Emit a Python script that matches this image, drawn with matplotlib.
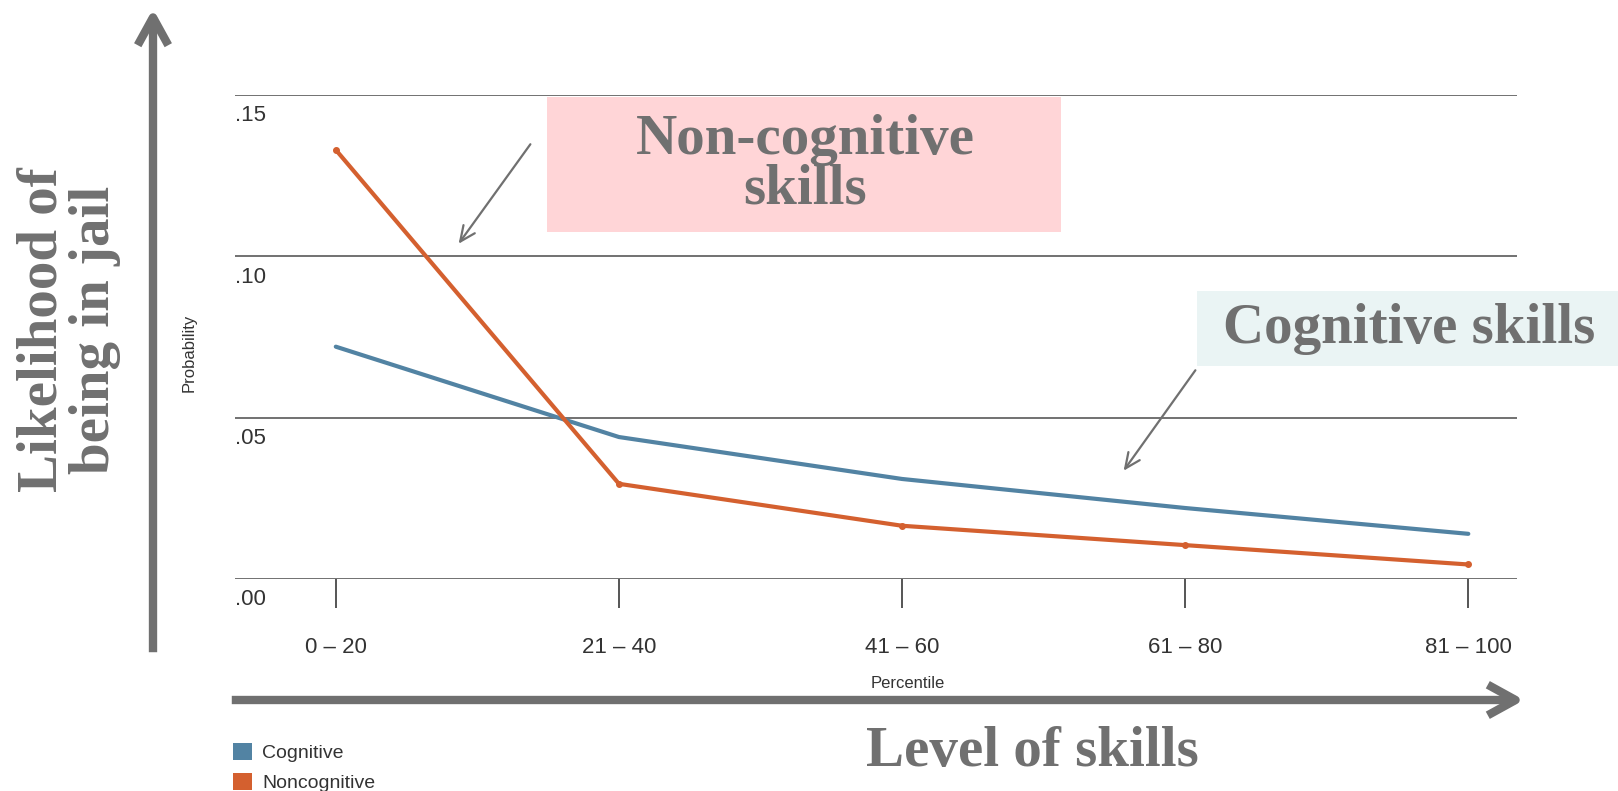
import matplotlib.pyplot as plt
import matplotlib.transforms as mtransforms
from matplotlib.patches import FancyArrowPatch, ArrowStyle, Rectangle, Patch

# data: probability of being in jail by skill percentile
categories   = ['0 – 20', '21 – 40', '41 – 60', '61 – 80', '81 – 100']
cognitive    = [0.072, 0.044, 0.031, 0.022, 0.014]
noncognitive = [0.133, 0.0295, 0.0165, 0.0105, 0.0045]
y_ticks      = [0.00, 0.05, 0.10, 0.15]
y_labels     = ['.00', '.05', '.10', '.15']

BLUE   = '#5283A3'
ORANGE = '#D4602F'
GREY   = '#707070'
SANS   = ['Liberation Sans', 'DejaVu Sans']
SERIF  = ['Liberation Serif', 'DejaVu Serif']

W, H = 1618, 791
fig = plt.figure(figsize=(W / 100, H / 100), dpi=100)


def fx(px):
    return px / W


def fy(py):
    return 1 - py / H


ax = fig.add_axes([fx(235), fy(579), fx(1517) - fx(235), fy(95) - fy(579)])
ax.patch.set_visible(False)
xs = list(range(len(categories)))

ax.plot(xs, cognitive, color=BLUE, lw=3, solid_capstyle='round', zorder=3)
ax.plot(xs, noncognitive, color=ORANGE, lw=3, marker='o', ms=4,
        solid_capstyle='round', zorder=4)

ax.set_xlim(-0.356, 4.172)
ax.set_ylim(0, 0.15)
for s in ax.spines.values():
    s.set_visible(False)

# horizontal rules
for v in y_ticks:
    ax.axhline(v, color='#666666', lw=1.3, zorder=1)

# y labels sit just under each rule
ytrans = mtransforms.blended_transform_factory(ax.transAxes, ax.transData)
for v, lab in zip(y_ticks, y_labels):
    ax.annotate(lab, xy=(0, v), xycoords=ytrans, xytext=(0, -15),
                textcoords='offset points', ha='left', va='center',
                fontsize=16, color='#333333', family=SANS)
ax.set_yticks([])

ax.set_xticks(xs)
ax.set_xticklabels([])
ax.tick_params(axis='x', length=21, width=1.4, color='#555555', direction='out')
xtrans = mtransforms.blended_transform_factory(ax.transData, ax.transAxes)
for x, lab in zip(xs, categories):
    ax.annotate(lab, xy=(x, 0), xycoords=xtrans, xytext=(0, -49),
                textcoords='offset points', ha='center', va='center',
                fontsize=16, color='#333333', family=SANS)

fig.text(fx(908), fy(684), 'Percentile', ha='center', va='center',
         fontsize=12, color='#333333', family=SANS)
fig.text(fx(189), fy(353), 'Probability', ha='center', va='center',
         rotation=90, fontsize=12, color='#333333', family=SANS)

# big axis arrows
big = ArrowStyle('->', head_length=20, head_width=11)
fig.add_artist(FancyArrowPatch((fx(153), fy(655)), (fx(153), fy(6)),
                               transform=fig.transFigure, arrowstyle=big,
                               mutation_scale=1, lw=6, color=GREY,
                               capstyle='butt', joinstyle='round'))
fig.add_artist(FancyArrowPatch((fx(229), fy(700)), (fx(1527), fy(700)),
                               transform=fig.transFigure, arrowstyle=big,
                               mutation_scale=1, lw=6, color=GREY,
                               capstyle='butt', joinstyle='round'))

fig.text(fx(69), fy(330), 'Likelihood of\nbeing in jail', rotation=90,
         ha='center', va='center', multialignment='center', linespacing=1.0,
         fontsize=41, fontweight='bold', color=GREY, family=SERIF)
fig.text(fx(1032), fy(752), 'Level of skills', ha='center', va='center',
         fontsize=41, fontweight='bold', color=GREY, family=SERIF)

# callout boxes
fig.add_artist(Rectangle((fx(547), fy(232)), fx(1061) - fx(547), fy(97) - fy(232),
                         transform=fig.transFigure, facecolor='#FFD5D7',
                         edgecolor='none', zorder=0))
fig.text(fx(805), fy(165), 'Non-cognitive\nskills', ha='center', va='center',
         linespacing=0.95, fontsize=41, fontweight='bold', color=GREY, family=SERIF)

fig.add_artist(Rectangle((fx(1197), fy(366)), fx(1618) - fx(1197), fy(291) - fy(366),
                         transform=fig.transFigure, facecolor='#EAF4F4',
                         edgecolor='none', zorder=0))
fig.text(fx(1409), fy(329), 'Cognitive skills', ha='center', va='center',
         fontsize=41, fontweight='bold', color=GREY, family=SERIF)

small = ArrowStyle('->', head_length=11, head_width=5)
fig.add_artist(FancyArrowPatch((fx(532), fy(142)), (fx(457), fy(246)),
                               transform=fig.transFigure, arrowstyle=small,
                               mutation_scale=1, lw=1.6, color=GREY))
fig.add_artist(FancyArrowPatch((fx(1197), fy(368)), (fx(1122), fy(473)),
                               transform=fig.transFigure, arrowstyle=small,
                               mutation_scale=1, lw=1.6, color=GREY))

# legend
handles = [Patch(facecolor=BLUE, edgecolor='none', label='Cognitive'),
           Patch(facecolor=ORANGE, edgecolor='none', label='Noncognitive')]
fig.legend(handles=handles, loc='upper left', bbox_to_anchor=(fx(233), fy(743)),
           frameon=False, borderpad=0, borderaxespad=0, handlelength=1.0,
           handleheight=1.0, handletextpad=0.5, labelspacing=0.55,
           prop={'family': SANS, 'size': 14}, labelcolor='#333333')

fig.savefig('out.png', dpi=100)
